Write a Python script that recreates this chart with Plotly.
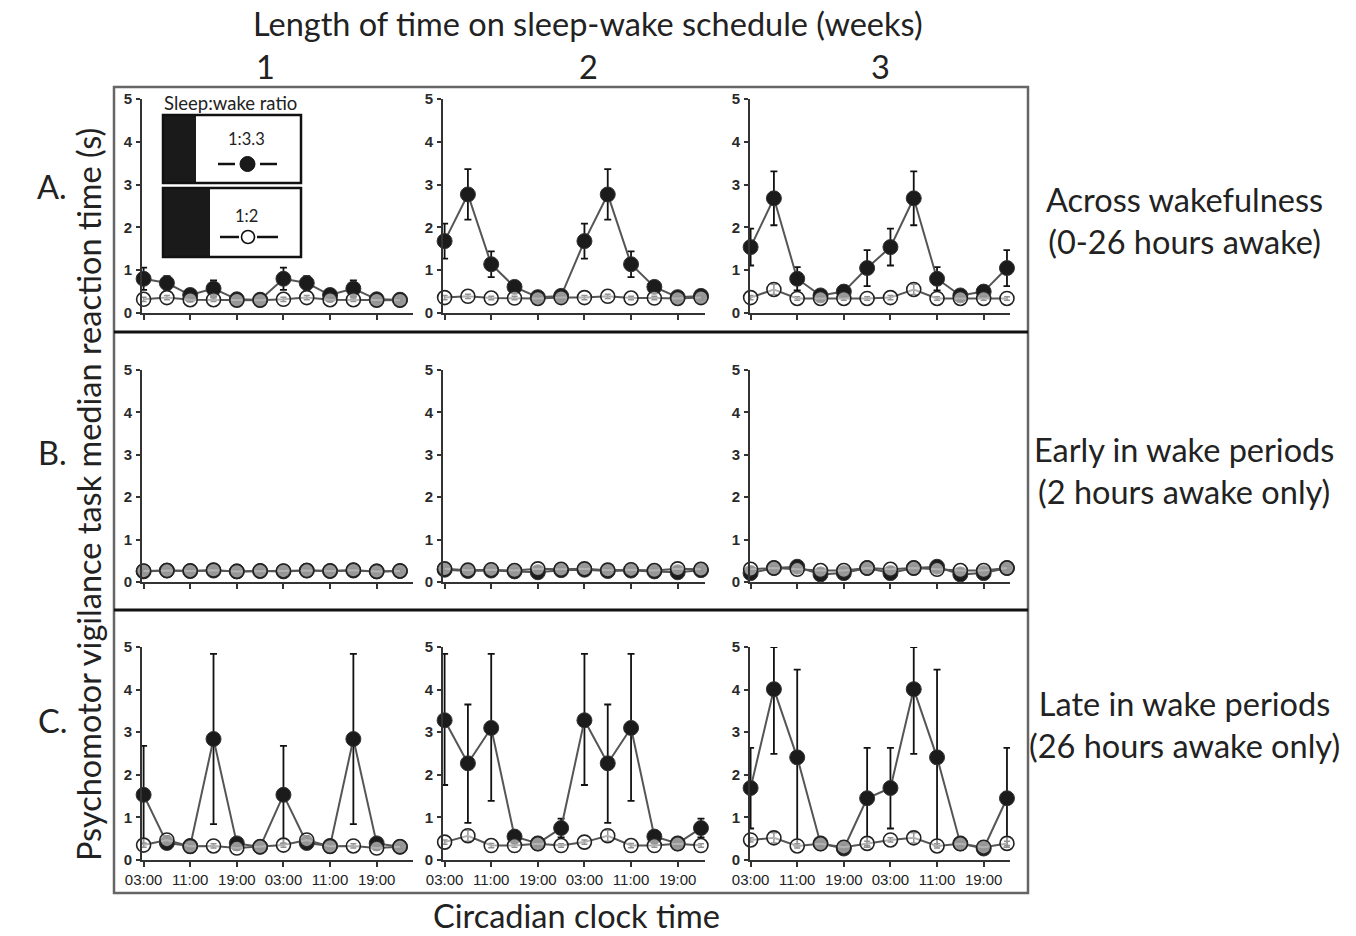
import plotly.graph_objects as go

W, H = 1356, 936

# ---------------- data ----------------
hours = [3, 7, 11, 15, 19, 23, 27, 31, 35, 39, 43, 47]
tick_vals = [3, 11, 19, 27, 35, 43]
tick_text = ["03:00", "11:00", "19:00", "03:00", "11:00", "19:00"]
weeks = ["1", "2", "3"]
row_letters = ["A.", "B.", "C."]
row_desc = ["Across wakefulness<br>(0-26 hours awake)",
            "Early in wake periods<br>(2 hours awake only)",
            "Late in wake periods<br>(26 hours awake only)"]

# Row A: across wakefulness
A1_filled = [0.80, 0.70, 0.42, 0.57, 0.32, 0.31, 0.80, 0.70, 0.42, 0.57, 0.32, 0.31]
A1_filled_err = [0.26, 0.16, 0.07, 0.19, 0.05, 0.05, 0.26, 0.16, 0.07, 0.19, 0.05, 0.05]
A1_open = [0.32, 0.36, 0.31, 0.31, 0.30, 0.30, 0.32, 0.36, 0.31, 0.31, 0.30, 0.30]
A1_open_err = [0.05, 0.05, 0.04, 0.04, 0.04, 0.04, 0.05, 0.05, 0.04, 0.04, 0.04, 0.04]

A2_filled = [1.68, 2.77, 1.14, 0.61, 0.37, 0.40, 1.68, 2.77, 1.14, 0.61, 0.37, 0.40]
A2_filled_err = [0.41, 0.59, 0.30, 0.10, 0.05, 0.06, 0.41, 0.59, 0.30, 0.10, 0.05, 0.06]
A2_open = [0.36, 0.39, 0.35, 0.35, 0.34, 0.36, 0.36, 0.39, 0.35, 0.35, 0.34, 0.36]
A2_open_err = [0.05, 0.05, 0.04, 0.04, 0.04, 0.04, 0.05, 0.05, 0.04, 0.04, 0.04, 0.04]

A3_filled = [1.54, 2.68, 0.80, 0.41, 0.50, 1.05, 1.54, 2.68, 0.80, 0.41, 0.50, 1.05]
A3_filled_err = [0.43, 0.63, 0.27, 0.10, 0.12, 0.42, 0.43, 0.63, 0.27, 0.10, 0.12, 0.42]
A3_open = [0.36, 0.55, 0.34, 0.34, 0.34, 0.34, 0.36, 0.55, 0.34, 0.34, 0.34, 0.34]
A3_open_err = [0.05, 0.12, 0.04, 0.04, 0.04, 0.04, 0.05, 0.12, 0.04, 0.04, 0.04, 0.04]

# Row B: early in wake periods
B1_filled = [0.25, 0.27, 0.26, 0.27, 0.25, 0.26, 0.25, 0.27, 0.26, 0.27, 0.25, 0.26]
B1_filled_err = [0.04, 0.04, 0.04, 0.04, 0.04, 0.04, 0.04, 0.04, 0.04, 0.04, 0.04, 0.04]
B1_open = [0.26, 0.27, 0.26, 0.28, 0.25, 0.26, 0.26, 0.27, 0.26, 0.28, 0.25, 0.26]
B1_open_err = [0.04, 0.04, 0.04, 0.04, 0.04, 0.04, 0.04, 0.04, 0.04, 0.04, 0.04, 0.04]

B2_filled = [0.29, 0.26, 0.27, 0.25, 0.23, 0.28, 0.29, 0.26, 0.27, 0.25, 0.23, 0.28]
B2_filled_err = [0.05, 0.04, 0.04, 0.04, 0.05, 0.04, 0.05, 0.04, 0.04, 0.04, 0.05, 0.04]
B2_open = [0.31, 0.28, 0.29, 0.27, 0.31, 0.30, 0.31, 0.28, 0.29, 0.27, 0.31, 0.30]
B2_open_err = [0.04, 0.04, 0.04, 0.04, 0.04, 0.04, 0.04, 0.04, 0.04, 0.04, 0.04, 0.04]

B3_filled = [0.21, 0.33, 0.36, 0.18, 0.21, 0.33, 0.21, 0.33, 0.36, 0.18, 0.21, 0.33]
B3_filled_err = [0.06, 0.04, 0.06, 0.06, 0.05, 0.04, 0.06, 0.04, 0.06, 0.06, 0.05, 0.04]
B3_open = [0.30, 0.33, 0.30, 0.27, 0.27, 0.33, 0.30, 0.33, 0.30, 0.27, 0.27, 0.33]
B3_open_err = [0.04, 0.04, 0.04, 0.04, 0.04, 0.04, 0.04, 0.04, 0.04, 0.04, 0.04, 0.04]

# Row C: late in wake periods
C1_filled = [1.53, 0.40, 0.33, 2.84, 0.39, 0.31, 1.53, 0.40, 0.33, 2.84, 0.39, 0.31]
C1_filled_err_plus = [1.15, 0.06, 0.05, 2.00, 0.06, 0.05, 1.15, 0.06, 0.05, 2.00, 0.06, 0.05]
C1_filled_err_minus = [1.15, 0.06, 0.05, 2.00, 0.06, 0.05, 1.15, 0.06, 0.05, 2.00, 0.06, 0.05]
C1_open = [0.35, 0.47, 0.32, 0.33, 0.28, 0.31, 0.35, 0.47, 0.32, 0.33, 0.28, 0.31]
C1_open_err = [0.05, 0.10, 0.05, 0.05, 0.05, 0.05, 0.05, 0.10, 0.05, 0.05, 0.05, 0.05]

C2_filled = [3.28, 2.27, 3.10, 0.55, 0.39, 0.75, 3.28, 2.27, 3.10, 0.55, 0.39, 0.75]
C2_filled_err_plus = [1.56, 1.38, 1.74, 0.12, 0.05, 0.22, 1.56, 1.38, 1.74, 0.12, 0.05, 0.22]
C2_filled_err_minus = [1.52, 1.40, 1.71, 0.12, 0.05, 0.22, 1.52, 1.40, 1.71, 0.12, 0.05, 0.22]
C2_open = [0.42, 0.57, 0.34, 0.34, 0.38, 0.34, 0.42, 0.57, 0.34, 0.34, 0.38, 0.34]
C2_open_err = [0.05, 0.13, 0.05, 0.04, 0.05, 0.04, 0.05, 0.13, 0.05, 0.04, 0.05, 0.04]

C3_filled = [1.69, 4.01, 2.41, 0.39, 0.27, 1.45, 1.69, 4.01, 2.41, 0.39, 0.27, 1.45]
C3_filled_err_plus = [0.94, 0.99, 2.06, 0.06, 0.05, 1.18, 0.94, 0.99, 2.06, 0.06, 0.05, 1.18]
C3_filled_err_minus = [0.95, 1.52, 2.08, 0.06, 0.05, 1.15, 0.95, 1.52, 2.08, 0.06, 0.05, 1.15]
C3_open = [0.47, 0.52, 0.33, 0.38, 0.30, 0.39, 0.47, 0.52, 0.33, 0.38, 0.30, 0.39]
C3_open_err = [0.05, 0.12, 0.05, 0.05, 0.05, 0.05, 0.05, 0.12, 0.05, 0.05, 0.05, 0.05]

panels = [
    [(A1_filled, A1_filled_err, A1_filled_err, A1_open, A1_open_err),
     (A2_filled, A2_filled_err, A2_filled_err, A2_open, A2_open_err),
     (A3_filled, A3_filled_err, A3_filled_err, A3_open, A3_open_err)],
    [(B1_filled, B1_filled_err, B1_filled_err, B1_open, B1_open_err),
     (B2_filled, B2_filled_err, B2_filled_err, B2_open, B2_open_err),
     (B3_filled, B3_filled_err, B3_filled_err, B3_open, B3_open_err)],
    [(C1_filled, C1_filled_err_plus, C1_filled_err_minus, C1_open, C1_open_err),
     (C2_filled, C2_filled_err_plus, C2_filled_err_minus, C2_open, C2_open_err),
     (C3_filled, C3_filled_err_plus, C3_filled_err_minus, C3_open, C3_open_err)],
]

# ---------------- layout helpers (pixel -> paper) ----------------
def px(x):
    return x / W

def py(y):
    return 1 - y / H

col_px = [(142, 413), (443, 705), (750, 1010)]
col_first_tick_px = [143, 444, 750]
px_per_hour = 5.84
row_px = [(313, 99), (582, 370), (860, 647)]  # (y of 0, y of 5)

TEXT_FONT = "Lato"
BIG = 32.5
TICK_FONT = dict(family="Arial, Liberation Sans", size=15, color="#2a2a2a", weight="bold")

fig = go.Figure()
layout = {}

for r in range(3):
    for c in range(3):
        k = r * 3 + c + 1
        xa = "x" if k == 1 else f"x{k}"
        ya = "y" if k == 1 else f"y{k}"
        xname = "xaxis" if k == 1 else f"xaxis{k}"
        yname = "yaxis" if k == 1 else f"yaxis{k}"
        x0, x1 = col_px[c]
        t0 = col_first_tick_px[c]
        rng = [3 - (t0 - x0 + 0.6) / px_per_hour, 3 + (x1 - t0) / px_per_hour]
        y0, y5 = row_px[r]
        layout[xname] = dict(
            domain=[px(x0), px(x1)], anchor=ya, range=rng, automargin=False,
            showgrid=False, zeroline=False, showline=True, linecolor="#333", linewidth=1.6,
            ticks="outside", ticklen=5, tickwidth=1.6, tickcolor="#333",
            tickvals=tick_vals, ticktext=tick_text, showticklabels=(r == 2),
            tickfont=dict(family="Arial, Liberation Sans", size=15, color="#222"),
        )
        layout[yname] = dict(
            domain=[py(y0), py(y5)], anchor=xa, range=[0, 5], automargin=False,
            showgrid=False, zeroline=False, showline=True, linecolor="#333", linewidth=1.6,
            ticks="outside", ticklen=4, tickwidth=1.6, tickcolor="#333",
            tickvals=[0, 1, 2, 3, 4, 5], tickfont=TICK_FONT, ticklabelstandoff=1,
        )
        filled, ep, em, opn, oe = panels[r][c]
        fig.add_trace(go.Scatter(
            x=hours, y=filled, xaxis=xa, yaxis=ya, mode="lines+markers",
            line=dict(color="#555", width=2),
            marker=dict(symbol="circle", size=15, color="#1b1b1b", line=dict(color="#333", width=1)),
            error_y=dict(type="data", array=ep, arrayminus=em, symmetric=False,
                         color="#111", thickness=1.8, width=3.5),
            cliponaxis=False, showlegend=False, hoverinfo="skip",
        ))
        fig.add_trace(go.Scatter(
            x=hours, y=opn, xaxis=xa, yaxis=ya, mode="lines+markers",
            line=dict(color="#555", width=2),
            marker=dict(symbol="circle", size=14, color="rgba(255,255,255,0.55)",
                        line=dict(color="#222", width=1.6)),
            error_y=dict(type="data", array=oe, color="#111", thickness=1.5, width=3),
            cliponaxis=False, showlegend=False, hoverinfo="skip",
        ))

shapes = []
# outer box
shapes.append(dict(type="rect", xref="paper", yref="paper",
                   x0=px(114), x1=px(1028), y0=py(893), y1=py(87),
                   line=dict(color="#666", width=2.5)))
# row separators
for ysep in (332, 610):
    shapes.append(dict(type="line", xref="paper", yref="paper",
                       x0=px(114), x1=px(1028), y0=py(ysep), y1=py(ysep),
                       line=dict(color="#111", width=3)))

# legend inset
for (top, bot, blk) in ((115, 183, 196), (188, 257, 210)):
    shapes.append(dict(type="rect", xref="paper", yref="paper",
                       x0=px(163), x1=px(blk), y0=py(bot), y1=py(top),
                       fillcolor="#1a1a1a", line=dict(width=0)))
    shapes.append(dict(type="rect", xref="paper", yref="paper",
                       x0=px(163), x1=px(301), y0=py(bot), y1=py(top),
                       line=dict(color="#111", width=2.5)))
# legend marker dashes
for (ym, xl0, xl1, xr0, xr1) in ((164, 218, 235, 260, 277), (237, 220, 239, 257, 278)):
    shapes.append(dict(type="line", xref="paper", yref="paper", x0=px(xl0), x1=px(xl1),
                       y0=py(ym), y1=py(ym), line=dict(color="#111", width=2.5)))
    shapes.append(dict(type="line", xref="paper", yref="paper", x0=px(xr0), x1=px(xr1),
                       y0=py(ym), y1=py(ym), line=dict(color="#111", width=2.5)))
shapes.append(dict(type="circle", xref="paper", yref="paper",
                   x0=px(240), x1=px(255), y0=py(171.5), y1=py(156.5),
                   fillcolor="#1a1a1a", line=dict(color="#111", width=1)))
shapes.append(dict(type="circle", xref="paper", yref="paper",
                   x0=px(241.5), x1=px(254.5), y0=py(243.5), y1=py(230.5),
                   fillcolor="white", line=dict(color="#111", width=1.6)))

ann = []
def text(x, y, s, size=BIG, color="#222", family=TEXT_FONT, **kw):
    d = dict(x=px(x), y=py(y), xref="paper", yref="paper", text=s, showarrow=False,
             font=dict(family=family, size=size, color=color), xanchor="center", yanchor="middle")
    d.update(kw)
    ann.append(d)

text(588, 23, "Length of time on sleep-wake schedule (weeks)")
for xc, w in zip((265, 588, 880), weeks):
    text(xc, 67, w)
for yc, lab in zip((187, 452, 720), row_letters):
    text(52, yc, lab)
for yc, desc in zip((220, 470, 724), row_desc):
    text(1184, yc, desc, align="center")
text(88, 495, "Psychomotor vigilance task median reaction time (s)", textangle=-90)
text(576, 915, "Circadian clock time")
text(230, 103, "Sleep:wake ratio", size=18.5, color="#222")
text(247, 139, "1:3.3", size=16.5, color="#222")
text(247, 216, "1:2", size=16.5, color="#222")

fig.update_layout(
    width=W, height=H, margin=dict(l=0, r=0, t=0, b=0, autoexpand=False),
    paper_bgcolor="white", plot_bgcolor="white",
    shapes=shapes, annotations=ann, showlegend=False,
    **layout,
)

fig.write_html("out.html", config={"displayModeBar": False},
               post_script="document.body.style.margin='0';document.body.style.overflow='hidden';")
